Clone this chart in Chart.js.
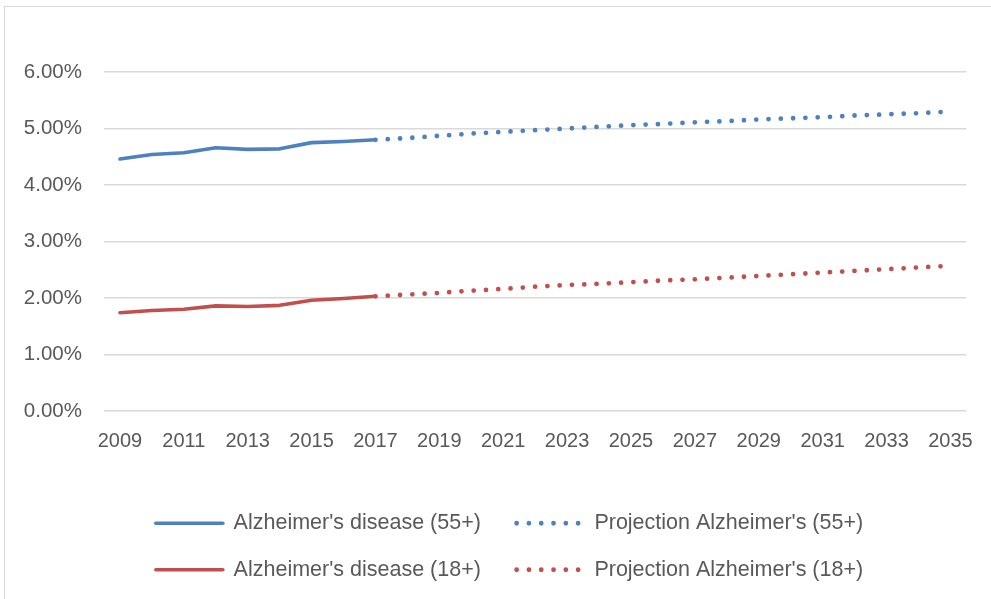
<!DOCTYPE html>
<html>
<head>
<meta charset="utf-8">
<script src="https://cdn.jsdelivr.net/npm/chart.js@4.4.1/dist/chart.umd.min.js"></script>
<style>
  html, body { margin: 0; padding: 0; background: #ffffff; }
  #wrap { position: relative; width: 991px; height: 599px; overflow: hidden; }
  #frame { position: absolute; left: 4px; top: 6px; width: 1000px; height: 700px;
           border-left: 1px solid #d9d9d9; border-top: 1px solid #d9d9d9; }
  #c { position: absolute; left: 0; top: 0; }
</style>
</head>
<body>
<div id="wrap">
  <div id="frame"></div>
  <canvas id="c" width="991" height="599"></canvas>
</div>
<script>
// Years on the category axis
const years = ['2009', '2010', '2011', '2012', '2013', '2014', '2015', '2016', '2017',
  '2018', '2019', '2020', '2021', '2022', '2023', '2024', '2025', '2026', '2027',
  '2028', '2029', '2030', '2031', '2032', '2033', '2034', '2035'];

// Observed prevalence (%), 2009-2017
const disease55 = [4.46, 4.54, 4.57, 4.66, 4.63, 4.64, 4.75, 4.77, 4.80];
const disease18 = [1.74, 1.78, 1.80, 1.86, 1.85, 1.87, 1.96, 1.99, 2.03];

// Projected prevalence (%), 2017-2035
const projectionStart = '2017';
const projection55 = [4.80, 4.83, 4.87, 4.91, 4.94, 4.97, 5.00, 5.03, 5.06, 5.08,
  5.11, 5.13, 5.16, 5.18, 5.20, 5.23, 5.25, 5.27, 5.30];
const projection18 = [2.03, 2.06, 2.09, 2.13, 2.16, 2.20, 2.23, 2.25, 2.28, 2.31,
  2.33, 2.36, 2.39, 2.42, 2.45, 2.48, 2.51, 2.54, 2.57];

// Y axis range (%)
const yMin = 0, yMax = 6, yStep = 1;

const BLUE = '#4F81BD';
const RED = '#C0504D';
const TEXT = '#595959';
const GRID = '#d9d9d9';

// Spread each series over the full year list
function observed(values) {
  return years.map((_, i) => (i < values.length ? values[i] : null));
}
function projected(values) {
  const start = years.indexOf(projectionStart);
  return years.map((_, i) => (i >= start && i - start < values.length ? values[i - start] : null));
}

const solid = (label, color, values) => ({
  label, data: observed(values), borderColor: color, backgroundColor: color,
  borderWidth: 3.6, borderCapStyle: 'round', borderJoinStyle: 'round',
  pointRadius: 0, tension: 0, spanGaps: false
});
const dotted = (label, color, values) => ({
  label, data: projected(values), borderColor: color, backgroundColor: color,
  borderWidth: 4.8, borderDash: [0, 12.3], borderCapStyle: 'round',
  pointRadius: 0, tension: 0, spanGaps: false
});

// Nudges the two-row legend so its columns sit under the plot
const legendShift = {
  id: 'legendShift',
  afterLayout(chart) {
    const lg = chart.legend;
    if (lg) { lg.left += 13; lg.right += 13; }
  }
};

Chart.defaults.font.family = "'Liberation Sans', Arial, sans-serif";
Chart.defaults.color = TEXT;

new Chart(document.getElementById('c'), {
  type: 'line',
  data: {
    labels: years,
    datasets: [
      solid("Alzheimer's disease (55+)", BLUE, disease55),
      dotted("Projection Alzheimer's (55+)", BLUE, projection55),
      solid("Alzheimer's disease (18+)", RED, disease18),
      dotted("Projection Alzheimer's (18+)", RED, projection18)
    ]
  },
  plugins: [legendShift],
  options: {
    responsive: false,
    devicePixelRatio: 1,
    animation: false,
    events: [],
    layout: { padding: { left: 22, right: 20, top: 72, bottom: 8.5 } },
    scales: {
      x: {
        type: 'category',
        offset: true,
        grid: { display: false, drawTicks: false },
        border: { display: false },
        ticks: {
          autoSkip: false, maxRotation: 0, padding: 18,
          font: { size: 20 }, color: TEXT,
          callback: (v, i) => (i % 2 === 0 ? years[i] : '')
        },
        afterFit: (scale) => { scale.height = 76.5; }
      },
      y: {
        min: yMin, max: yMax,
        grid: { color: GRID, lineWidth: 1.5, drawTicks: false },
        border: { display: false },
        ticks: {
          stepSize: yStep, padding: 22, font: { size: 20.5 }, color: TEXT,
          callback: (v) => v.toFixed(2) + '%'
        },
        afterFit: (scale) => { scale.width = 82; }
      }
    },
    plugins: {
      tooltip: { enabled: false },
      legend: {
        position: 'bottom',
        labels: {
          usePointStyle: true,
          pointStyle: 'line',
          pointStyleWidth: 67,
          padding: 25,
          color: TEXT,
          font: { size: 21.5 },
          generateLabels: (chart) => chart.data.datasets.map((ds, i) => ({
            // first-column entries carry a little trailing room before the next column
            text: ds.label + (i % 2 === 0 ? '\u2002' : ''),
            fillStyle: ds.borderColor,
            strokeStyle: ds.borderColor,
            lineWidth: ds.borderWidth,
            lineDash: ds.borderDash || [],
            lineCap: ds.borderCapStyle || 'butt',
            pointStyle: 'line',
            fontColor: TEXT,
            hidden: false,
            datasetIndex: i
          }))
        }
      }
    }
  }
});
</script>
</body>
</html>
